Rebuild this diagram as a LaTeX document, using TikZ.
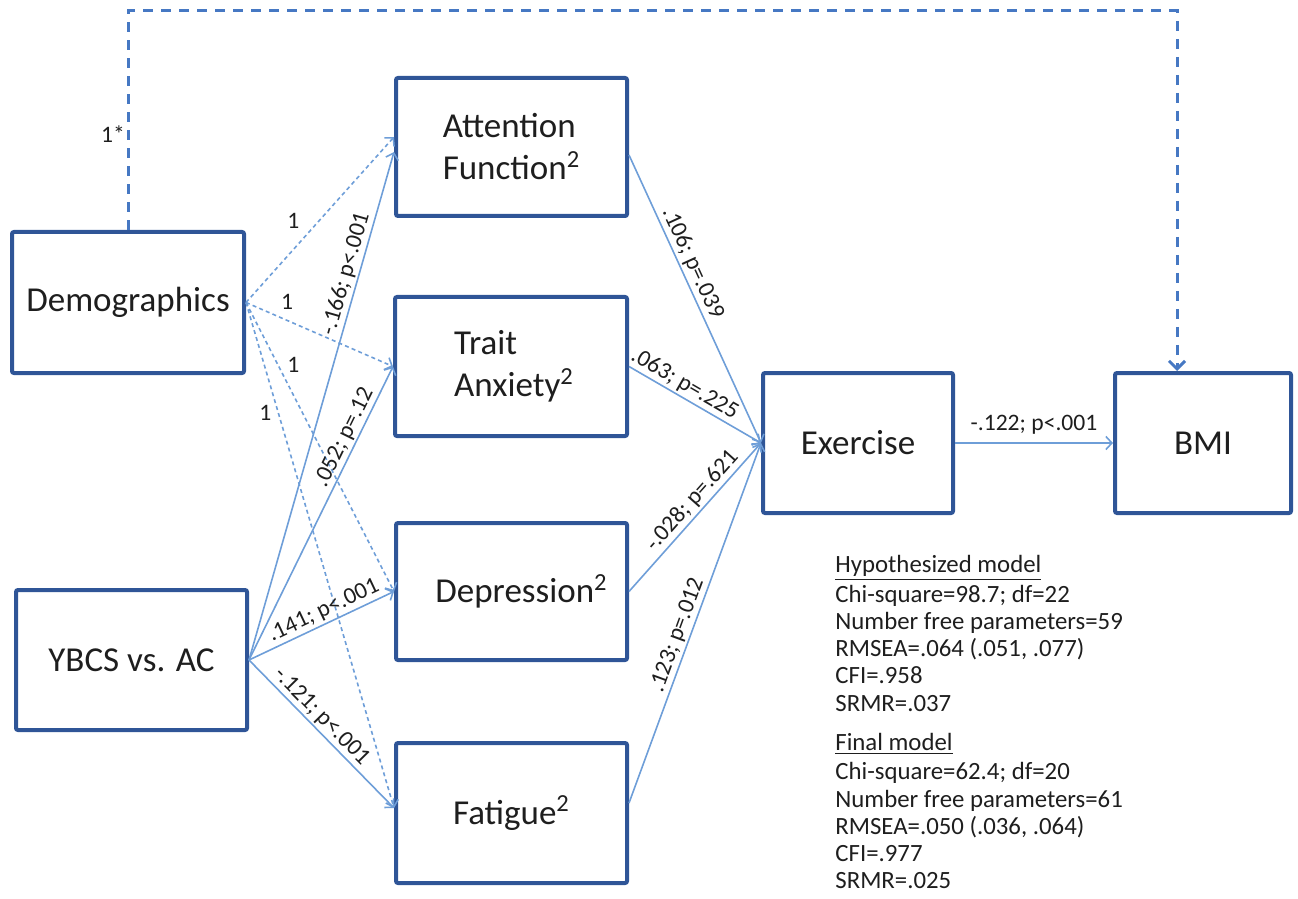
\documentclass[tikz,border=0pt]{standalone}
\usepackage{fontspec}
\setmainfont{Carlito}
\usetikzlibrary{arrows.meta}
\definecolor{boxblue}{RGB}{47,85,151}
\definecolor{arrblue}{RGB}{110,158,216}
\definecolor{dashblue}{RGB}{70,120,195}
\definecolor{txt}{RGB}{30,30,30}
\begin{document}
\begin{tikzpicture}[x=0.5pt,y=-0.5pt,
 box/.style={draw=boxblue, line width=2pt, rounded corners=1pt, inner sep=0pt,
   font=\fontsize{17.5}{21}\selectfont, text=txt, align=left},
 solidarr/.style={draw=arrblue, line width=0.8pt, -{Straight Barb[length=3pt,width=6.5pt]}},
 dotarr/.style={solidarr, dash pattern=on 2pt off 1.6pt},
 toparr/.style={draw=dashblue, line width=1.5pt, dash pattern=on 5pt off 4pt,
   -{Straight Barb[length=4pt,width=8pt]}},
 lab/.style={font=\fontsize{11.8}{14}\selectfont, text=txt, inner sep=1pt},
]
\useasboundingbox (0,0) rectangle (1298,899);

\node[box, minimum width=116pt, minimum height=70.5pt] (dem) at (128,302.5) {Demographics};
\node[box, minimum width=115.5pt, minimum height=70pt] (ybcs) at (131.5,660) {YBCS vs. AC};
\node[box, minimum width=115.5pt, minimum height=69pt] (att) at (511.5,147) {Attention\\Function\textsuperscript{2}};
\node[box, minimum width=116pt, minimum height=69.5pt] (trait) at (511,366.5) {\hspace*{3pt}Trait\\\hspace*{3pt}Anxiety\textsuperscript{2}};
\node[box, minimum width=115.5pt, minimum height=68.5pt] (dep) at (511.5,591.5) {\hspace*{10pt}Depression\textsuperscript{2}};
\node[box, minimum width=115.5pt, minimum height=70pt] (fat) at (511.5,813) {Fatigue\textsuperscript{2}};
\node[box, minimum width=95pt, minimum height=70pt] (ex) at (858,443) {Exercise};
\node[box, minimum width=88pt, minimum height=70pt] (bmi) at (1203,443) {BMI};

% Demographics -> mediators (dashed)
\draw[dotarr] (dem.east) -- ([yshift=5pt]att.west) node[lab,pos=0.32,yshift=14.5pt]{1};
\draw[dotarr] (dem.east) -- (trait.west) node[lab,pos=0.28,yshift=9.5pt]{1};
\draw[dotarr] (dem.east) -- (dep.west) node[lab,pos=0.215,xshift=7.75pt]{1};
\draw[dotarr] (dem.east) -- ([yshift=2.5pt]fat.west) node[lab,pos=0.219,xshift=-6.5pt]{1};

% YBCS -> mediators
\draw[solidarr] (ybcs.east) -- ([yshift=-2.5pt]att.west) node[lab,sloped,above,pos=0.753]{-.166; p<.001};
\draw[solidarr] (ybcs.east) -- (trait.west) node[lab,sloped,above,pos=0.74]{.052; p=.12};
\draw[solidarr] (ybcs.east) -- (dep.west) node[lab,sloped,above,pos=0.553]{.141; p<.001};
\draw[solidarr] (ybcs.east) -- ([yshift=2.5pt]fat.west) node[lab,sloped,above,pos=0.44]{-.121; p<.001};

% mediators -> Exercise
\draw[solidarr] ([yshift=-4pt]att.east) -- (ex.west) node[lab,sloped,above,pos=0.395]{.106; p=.039};
\draw[solidarr] (trait.east) -- (ex.west) node[lab,sloped,above,pos=0.374]{.063; p=.225};
\draw[solidarr] (dep.east) -- (ex.west) node[lab,sloped,above,pos=0.554]{-.028; p=.621};
\draw[solidarr] ([yshift=5pt]fat.east) -- (ex.west) node[lab,sloped,above,pos=0.455]{.123; p=.012};

% Exercise -> BMI
\draw[solidarr] (ex.east) -- (bmi.west) node[lab,above=3pt,pos=0.5]{-.122; p<.001};

% Demographics -> BMI (top dashed)
\coordinate (tr) at (1177,11);
\draw[toparr] (dem.north) |- node[lab,pos=0.22,xshift=-7.5pt]{1*} (tr) -- ([xshift=-13pt]bmi.north);

% fit statistics
\node[font=\fontsize{12.4}{13.6}\selectfont, text=txt, anchor=north west, inner sep=0pt, align=left] (stats) at (835,555)
{\underline{Hypothesized model}\\[1.2pt]
Chi-square=98.7; df=22\\
Number free parameters=59\\
RMSEA=.064 (.051, .077)\\
CFI=.958\\
SRMR=.037\\[6pt]
\underline{Final model}\\[1.2pt]
Chi-square=62.4; df=20\\
Number free parameters=61\\
RMSEA=.050 (.036, .064)\\
CFI=.977\\
SRMR=.025};
\end{tikzpicture}
\end{document}
